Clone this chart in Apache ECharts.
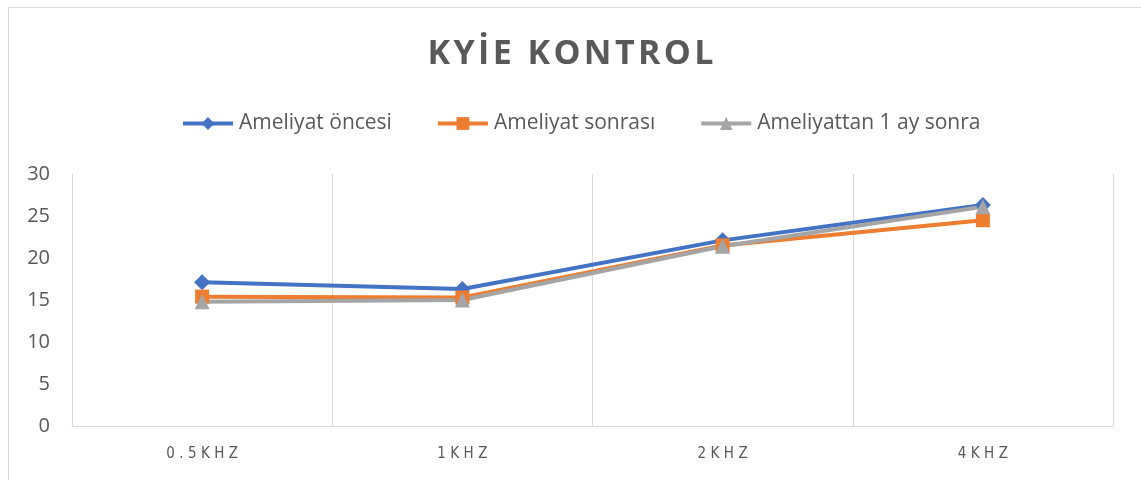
<!DOCTYPE html>
<html>
<head>
<meta charset="utf-8">
<script src="https://cdn.jsdelivr.net/npm/echarts@6/dist/echarts.min.js"></script>
<style>
  html, body { margin: 0; padding: 0; background: #fff; }
  #chart { width: 1141px; height: 480px; }
</style>
</head>
<body>
<div id="chart"></div>
<script>
// 数据
const categories = ['0.5KHZ', '1KHZ', '2KHZ', '4KHZ']
const oncesi = [17.1, 16.3, 22.1, 26.3]
const sonrasi = [15.4, 15.3, 21.5, 24.5]
const birAySonra = [14.8, 15.0, 21.4, 26.1]
const yTicks = { min: 0, max: 30, interval: 5 }

const myChart = echarts.init(document.getElementById('chart'))

const textColor = '#595959'
// 字间距：在字符之间插入窄空格
const spaced = (s, sp) => s.split('').join(sp)

const lineSeries = (name, data, color, symbol, size) => ({
  name,
  type: 'line',
  data,
  color,
  symbol,
  symbolSize: size,
  lineStyle: { width: 4, color },
  itemStyle: { color },
  z: 3
})

const options = {
  animation: false,
  // 外边框
  graphic: [{
    type: 'rect',
    shape: { x: 8.5, y: 7.5, width: 1300, height: 700 },
    style: { fill: 'none', stroke: '#d9d9d9', lineWidth: 1 },
    silent: true
  }],
  title: {
    text: spaced('KYİE KONTROL', '\u200A'),
    left: 'center',
    top: 32,
    textStyle: {
      fontFamily: 'Open Sans',
      fontWeight: 'bold',
      fontSize: 34,
      color: textColor
    }
  },
  legend: {
    top: 108,
    left: 176,
    itemWidth: 50,
    itemHeight: 16,
    itemGap: 44,
    lineStyle: { width: 4 },
    textStyle: { fontFamily: 'Open Sans', fontSize: 21, color: textColor, padding: [0, 0, 0, 1] },
    data: ['Ameliyat öncesi', 'Ameliyat sonrası', 'Ameliyattan 1 ay sonra']
  },
  grid: {
    top: 174,
    left: 72,
    right: 28,
    bottom: 54
  },
  xAxis: {
    type: 'category',
    data: categories,
    boundaryGap: true,
    axisLine: { lineStyle: { color: '#d9d9d9', width: 1 } },
    axisTick: { show: false },
    axisLabel: {
      fontFamily: 'DejaVu Sans Condensed',
      fontSize: 15,
      color: textColor,
      margin: 21,
      formatter: (v) => spaced(v, '\u2004')
    },
    splitLine: { show: true, lineStyle: { color: '#d9d9d9', width: 1 } }
  },
  yAxis: {
    type: 'value',
    min: yTicks.min,
    max: yTicks.max,
    interval: yTicks.interval,
    axisLine: { show: true, lineStyle: { color: '#d9d9d9' } },
    axisTick: { show: false },
    splitLine: { show: false },
    axisLabel: {
      fontFamily: 'Open Sans',
      fontSize: 20,
      color: textColor,
      margin: 22
    }
  },
  series: [
    lineSeries('Ameliyat öncesi', oncesi, '#4472C4', 'diamond', 16),
    lineSeries('Ameliyat sonrası', sonrasi, '#ED7D31', 'rect', 14),
    lineSeries('Ameliyattan 1 ay sonra', birAySonra, '#A5A5A5', 'triangle', 15)
  ]
}
myChart.setOption(options)
</script>
</body>
</html>
